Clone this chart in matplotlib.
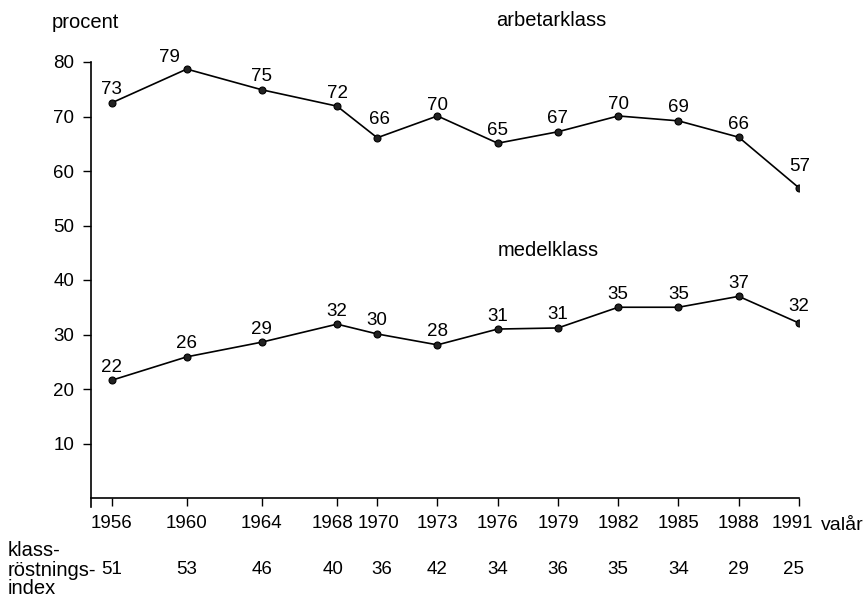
import numpy as np
import matplotlib.pyplot as plt
import matplotlib.transforms as mtransforms

plt.rcParams['font.family'] = ['Liberation Sans', 'DejaVu Sans']

# election years
years = [1956, 1960, 1964, 1968, 1970, 1973, 1976, 1979, 1982, 1985, 1988, 1991]

# plotted values and the printed labels
arbetar_values = [72.5, 78.7, 74.9, 71.9, 66.1, 70.1, 65.1, 67.2, 70.1, 69.2, 66.2, 56.9]
arbetar_labels = [73, 79, 75, 72, 66, 70, 65, 67, 70, 69, 66, 57]

medel_values = [21.6, 25.9, 28.6, 31.9, 30.1, 28.1, 31.0, 31.2, 35.0, 35.0, 37.0, 32.1]
medel_labels = [22, 26, 29, 32, 30, 28, 31, 31, 35, 35, 37, 32]

index_values = [51, 53, 46, 40, 36, 42, 34, 36, 35, 34, 29, 25]

y_ticks = [10, 20, 30, 40, 50, 60, 70, 80]

NUM_FS = 13.5
WORD_FS = 14.5

# label nudges in pixels (dx, dy), default is straight above the point
nudge_arbetar = {1960: (-17, 12), 1970: (2, 18), 1973: (0, 10), 1982: (0, 11), 1991: (1, 21)}
nudge_medel = {1991: (0, 17)}
# horizontal nudges (pixels) for the year labels and index row
nudge_year = {1968: -5, 1970: 1, 1991: -7}
nudge_index = {1968: -4, 1970: 5, 1991: -6}


# the original drawing packs the 4-year gaps a bit tighter
def fwd(x):
    x = np.asarray(x, float)
    return np.where(x < 1968, 1968 - (1968 - x) * 0.935, x)


def inv(y):
    y = np.asarray(y, float)
    return np.where(y < 1968, 1968 - (1968 - y) / 0.935, y)


fig = plt.figure(figsize=(8.68, 6.03), dpi=100)
ax = fig.add_axes([91 / 868, 105 / 603, (799 - 91) / 868, (498 - 62) / 603])
ax.set_xscale('function', functions=(fwd, inv))

for vals, labs, nudge in [(arbetar_values, arbetar_labels, nudge_arbetar),
                          (medel_values, medel_labels, nudge_medel)]:
    ax.plot(years, vals, color='black', lw=1.2, marker='o', ms=5,
            mfc='#222222', mec='black', mew=0.8)
    for yr, v, lab in zip(years, vals, labs):
        dx, dy = nudge.get(yr, (0, 13))
        ax.annotate(str(lab), (yr, v), xytext=(dx, dy), textcoords='offset pixels',
                    ha='center', va='center', fontsize=NUM_FS)

ax.set_xlim(1954.9, 1991)
ax.set_ylim(0, 80)

ax.spines['top'].set_visible(False)
ax.spines['right'].set_visible(False)
ax.spines['left'].set_bounds(-1.7, 80)
ax.spines['left'].set_linewidth(1.2)
ax.spines['bottom'].set_linewidth(1.2)

ax.set_xticks(years)
ax.set_xticklabels([str(y) for y in years])
ax.set_yticks(y_ticks)
ax.set_yticklabels([str(t) for t in y_ticks])
ax.tick_params(axis='both', direction='out', length=6, width=1.0, labelsize=NUM_FS, pad=6)
ax.minorticks_off()

for yr, lbl in zip(years, ax.get_xticklabels()):
    if yr in nudge_year:
        shift = mtransforms.ScaledTranslation(nudge_year[yr] / 100, 0, fig.dpi_scale_trans)
        lbl.set_transform(lbl.get_transform() + shift)

# titles and labels
fig.text(52 / 868, 1 - 23 / 603, 'procent', fontsize=WORD_FS, ha='left', va='center')
fig.text(551 / 868, 1 - 20 / 603, 'arbetarklass', fontsize=WORD_FS, ha='center', va='center')
fig.text(548 / 868, 1 - 251 / 603, 'medelklass', fontsize=WORD_FS, ha='center', va='center')
fig.text(821 / 868, 1 - 525 / 603, 'valår', fontsize=14, ha='left', va='center')

# class voting index row
fig.text(8 / 868, 1 - 570 / 603, 'klass-\nröstnings-\nindex', fontsize=WORD_FS,
         ha='left', va='center', linespacing=1.0)
trans = ax.get_xaxis_transform()
for yr, iv in zip(years, index_values):
    ax.annotate(str(iv), (yr, -(570 - 498) / 436), xycoords=trans,
                xytext=(nudge_index.get(yr, 0), 0), textcoords='offset pixels',
                ha='center', va='center', fontsize=NUM_FS, annotation_clip=False)

fig.savefig('out.png', dpi=100, facecolor='white')
